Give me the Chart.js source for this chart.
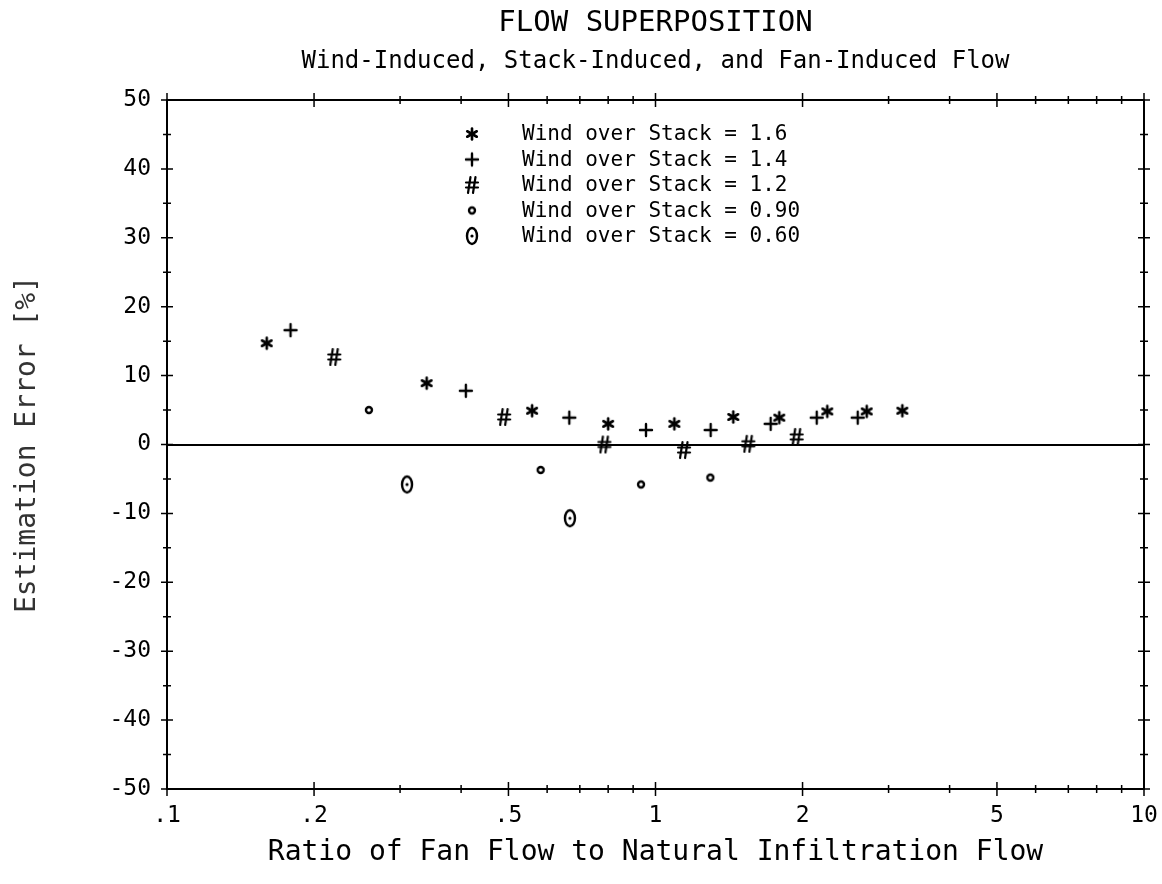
<!DOCTYPE html>
<html><head><meta charset="utf-8">
<script src="https://cdn.jsdelivr.net/npm/chart.js@4/dist/chart.umd.min.js"></script>
<style>html,body{margin:0;padding:0;background:#fff}</style>
</head><body>
<canvas id="c" width="1162" height="884" style="width:1162px;height:884px;display:block"></canvas>
<script>
// ---- data ----
const chartTitle = "FLOW SUPERPOSITION";
const chartSubtitle = "Wind-Induced, Stack-Induced, and Fan-Induced Flow";
const xTitle = "Ratio of Fan Flow to Natural Infiltration Flow";
const yTitle = "Estimation Error [%]";
const seriesLabels = ["Wind over Stack = 1.6", "Wind over Stack = 1.4", "Wind over Stack = 1.2", "Wind over Stack = 0.90", "Wind over Stack = 0.60"];
const seriesGlyphs = ["star", "plus", "hash", "dot", "zero"];

const ratio16 = [0.160, 0.340, 0.559, 0.800, 1.093, 1.443, 1.792, 2.247, 2.706, 3.201];
const error16 = [14.7, 8.9, 4.9, 3.0, 3.0, 4.0, 3.9, 4.8, 4.8, 4.9];
const ratio14 = [0.179, 0.409, 0.666, 0.956, 1.297, 1.721, 2.138, 2.594];
const error14 = [16.6, 7.8, 3.9, 2.1, 2.1, 3.0, 3.9, 3.9];
const ratio12 = [0.220, 0.490, 0.786, 1.144, 1.549, 1.945];
const error12 = [12.7, 4.0, 0.0, -0.8, 0.1, 1.1];
const ratio09 = [0.259, 0.582, 0.934, 1.295];
const error09 = [5.0, -3.7, -5.8, -4.8];
const ratio06 = [0.310, 0.668];
const error06 = [-5.8, -10.7];

const xTickValues = [0.1,0.2,0.3,0.4,0.5,0.6,0.7,0.8,0.9,1,2,3,4,5,6,7,8,9,10];
const xTickLabels = {"0.1": ".1", "0.2": ".2", "0.5": ".5", "1": "1", "2": "2", "5": "5", "10": "10"};
const yMin = -50, yMax = 50;

// ---- glyph markers ----
function makeGlyph(kind) {
  const c = document.createElement('canvas');
  const w = 18, h = 22;
  c.width = w; c.height = h;
  const g = c.getContext('2d');
  g.strokeStyle = '#000'; g.fillStyle = '#000';
  g.lineCap = 'round';
  const cx = w/2, cy = h/2;
  if (kind === 'star') {
    g.lineWidth = 2.6;
    const r = 5.5;
    for (let a = 0; a < 3; a++) {
      const ang = Math.PI/2 + a*Math.PI/3;
      g.beginPath();
      g.moveTo(cx + r*Math.cos(ang), cy + r*Math.sin(ang));
      g.lineTo(cx - r*Math.cos(ang), cy - r*Math.sin(ang));
      g.stroke();
    }
  } else if (kind === 'plus') {
    g.lineWidth = 2.4;
    g.beginPath();
    g.moveTo(cx-6, cy); g.lineTo(cx+6, cy);
    g.moveTo(cx, cy-6); g.lineTo(cx, cy+6);
    g.stroke();
  } else if (kind === 'hash') {
    g.lineWidth = 2.2;
    g.beginPath();
    g.moveTo(cx-1.5, cy-8); g.lineTo(cx-4, cy+8);
    g.moveTo(cx+3.5, cy-8); g.lineTo(cx+1, cy+8);
    g.moveTo(cx-6, cy-2.5); g.lineTo(cx+6, cy-2.5);
    g.moveTo(cx-6, cy+2.5); g.lineTo(cx+6, cy+2.5);
    g.stroke();
  } else if (kind === 'dot') {
    g.lineWidth = 2.4;
    g.beginPath();
    g.arc(cx, cy, 3, 0, Math.PI*2);
    g.stroke();
  } else if (kind === 'zero') {
    g.lineWidth = 2.4;
    g.beginPath();
    g.ellipse(cx, cy, 5, 8, 0, 0, Math.PI*2);
    g.stroke();
    g.beginPath();
    g.arc(cx, cy, 1.6, 0, Math.PI*2);
    g.fill();
  }
  return c;
}
const glyphs = seriesGlyphs.map(makeGlyph);

function pts(xs, ys) { return xs.map((x, i) => ({x: x, y: ys[i]})); }
const seriesData = [pts(ratio16, error16), pts(ratio14, error14), pts(ratio12, error12), pts(ratio09, error09), pts(ratio06, error06)];

const FONT = "'DejaVu Sans Mono', 'Liberation Mono', monospace";

// ---- plugins ----
const titlePlugin = {
  id: 'titles',
  afterDraw(chart) {
    const {ctx, chartArea} = chart;
    const cx = (chartArea.left + chartArea.right) / 2;
    ctx.save();
    ctx.fillStyle = '#000';
    ctx.textAlign = 'center';
    ctx.textBaseline = 'middle';
    ctx.font = "29px " + FONT;
    ctx.fillText(chartTitle, cx, 23);
    ctx.font = "24px " + FONT;
    ctx.fillText(chartSubtitle, cx, 62);
    ctx.restore();
  }
};

const framePlugin = {
  id: 'frame',
  afterDraw(chart) {
    const {ctx, chartArea, scales} = chart;
    const {left, right, top, bottom} = chartArea;
    ctx.save();
    ctx.strokeStyle = '#000';
    ctx.lineWidth = 2;
    ctx.strokeRect(left, top, right - left, bottom - top);
    ctx.lineWidth = 1.5;
    ctx.beginPath();
    xTickValues.forEach(v => {
      const px = scales.x.getPixelForValue(v);
      const major = xTickLabels[String(v)] !== undefined;
      const L = major ? 7 : 4;
      ctx.moveTo(px, bottom - L); ctx.lineTo(px, bottom + L);
      ctx.moveTo(px, top - L); ctx.lineTo(px, top + L);
    });
    for (let v = yMin; v <= yMax; v += 5) {
      const py = scales.y.getPixelForValue(v);
      const L = (v % 10 === 0) ? 6 : 4;
      ctx.moveTo(left - L, py); ctx.lineTo(left + L, py);
      ctx.moveTo(right - L, py); ctx.lineTo(right + L, py);
    }
    ctx.stroke();
    ctx.restore();
  }
};

const legendPlugin = {
  id: 'glyphLegend',
  afterDraw(chart) {
    const {ctx, chartArea} = chart;
    ctx.save();
    ctx.fillStyle = '#000';
    ctx.textAlign = 'left';
    ctx.textBaseline = 'middle';
    ctx.font = "21px " + FONT;
    seriesLabels.forEach((lab, i) => {
      const y = chartArea.top + 34 + i * 25.5;
      const gl = glyphs[i];
      ctx.drawImage(gl, 472 - gl.width/2, y - gl.height/2);
      ctx.fillText(lab, 522, y + 1);
    });
    ctx.restore();
  }
};

new Chart(document.getElementById('c'), {
  type: 'scatter',
  data: {
    datasets: seriesLabels.map((lab, i) => ({
      label: lab,
      data: seriesData[i],
      pointStyle: glyphs[i],
      pointRadius: 8,
      showLine: false
    }))
  },
  options: {
    responsive: false,
    devicePixelRatio: 1,
    animation: false,
    layout: { padding: { top: 100, right: 18, left: 0, bottom: 0 } },
    plugins: { legend: { display: false }, tooltip: { enabled: false }, title: { display: false } },
    scales: {
      x: {
        type: 'logarithmic',
        min: 0.1, max: 10,
        afterBuildTicks(scale) { scale.ticks = xTickValues.map(v => ({value: v})); },
        afterFit(scale) { scale.height = 95; scale.paddingLeft = 0; scale.paddingRight = 0; },
        ticks: {
          autoSkip: false, maxRotation: 0, padding: 13, color: '#000',
          font: { family: FONT, size: 23 },
          callback(value) { const t = xTickLabels[String(Number(value.toPrecision(6)))]; return t === undefined ? '' : t; }
        },
        grid: { drawOnChartArea: false, drawTicks: false },
        border: { display: true, color: '#000', width: 2 },
        title: { display: true, text: xTitle, color: '#000', font: { family: FONT, size: 28 }, padding: { top: 14, bottom: 14 } }
      },
      y: {
        type: 'linear',
        min: yMin, max: yMax,
        afterFit(scale) { scale.width = 167; scale.paddingTop = 0; scale.paddingBottom = 0; },
        ticks: {
          stepSize: 5, padding: 16, color: '#000',
          font: { family: FONT, size: 23 },
          callback(value) { return value % 10 === 0 ? String(value) : ''; }
        },
        grid: {
          drawTicks: false,
          lineWidth: 2,
          color(ctx) { return ctx.tick && ctx.tick.value === 0 ? '#000' : 'rgba(0,0,0,0)'; }
        },
        border: { display: true, color: '#000', width: 2 },
        title: { display: true, text: yTitle, color: '#333', font: { family: FONT, size: 28 }, padding: { top: 11, bottom: 11 } }
      }
    }
  },
  plugins: [titlePlugin, framePlugin, legendPlugin]
});
</script>
</body></html>
